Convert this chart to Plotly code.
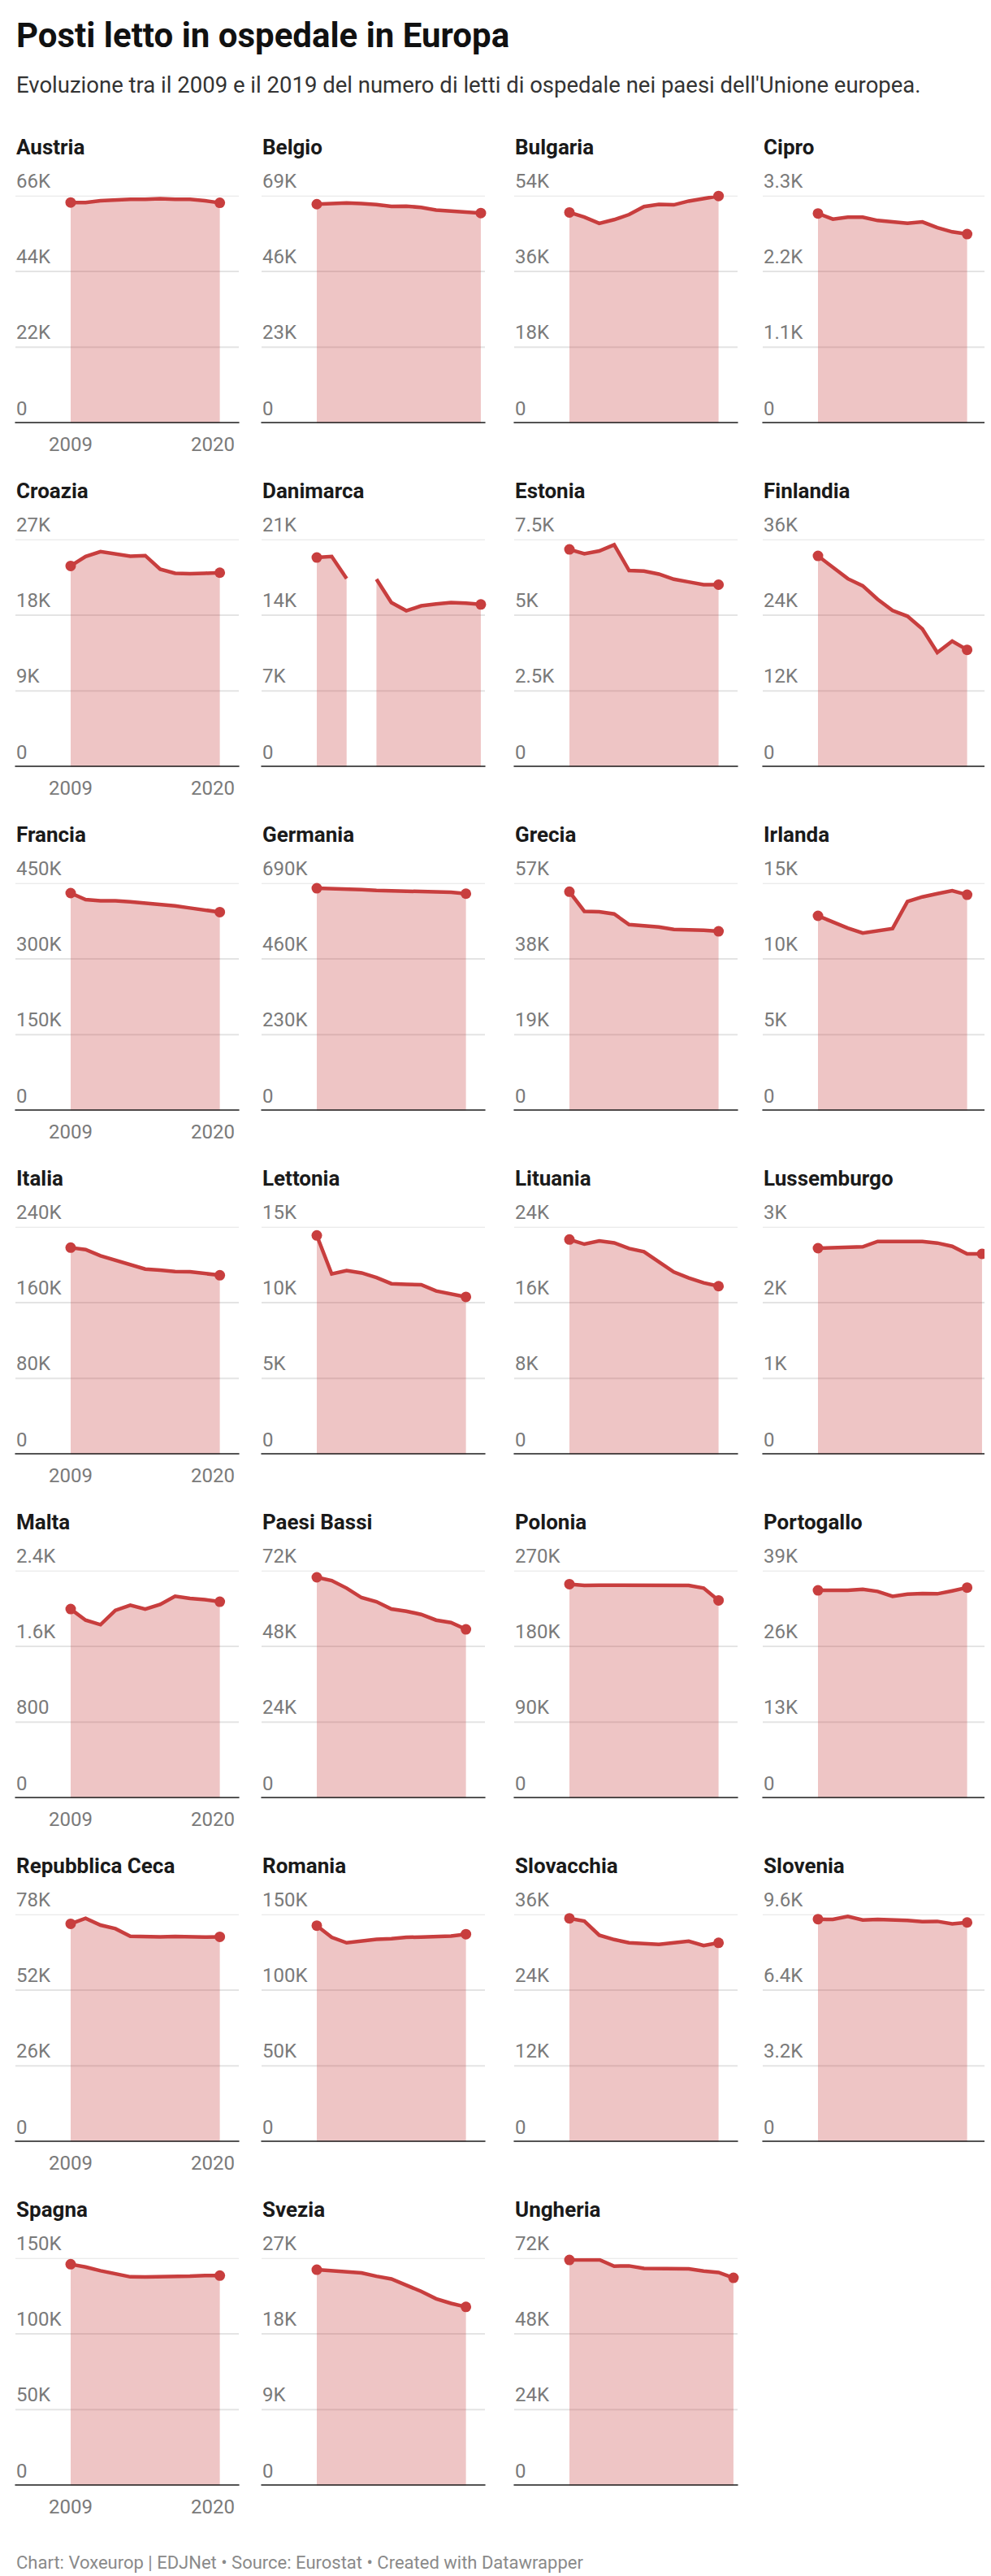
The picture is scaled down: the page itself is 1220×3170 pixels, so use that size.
import plotly.graph_objects as go

# ---------------- DATA ----------------
years_2019 = list(range(2009, 2020))
years_2020 = list(range(2009, 2021))

austria = [64000, 64000, 64500, 64800, 64900, 64900, 65100, 64900, 64900, 64500, 63900]
belgio = [66400, 66600, 66800, 66600, 66300, 65700, 65800, 65400, 64600, 64300, 64100, 63700]
bulgaria = [50000, 48900, 47400, 48300, 49500, 51400, 51900, 51800, 52700, 53200, 53900]
cipro = [3041, 2958, 2986, 2986, 2939, 2915, 2899, 2919, 2836, 2774, 2742]
croazia = [23840, 24970, 25550, 25230, 25000, 25070, 23460, 22970, 22910, 22970, 23040]
danimarca = [19320, 19420, 17370, None, 17320, 15160, 14410, 14860, 15040, 15160, 15110, 14990]
estonia = [7169, 7026, 7115, 7321, 6471, 6453, 6354, 6184, 6095, 6005, 6005]
finlandia = [33380, 31490, 29770, 28650, 26510, 24740, 23840, 21820, 18090, 19890, 18520]
francia = [430200, 417300, 415100, 415100, 413000, 410800, 408700, 405000, 400700, 396900, 392600]
germania = [674400, 673600, 671900, 670300, 667800, 667000, 665300, 664500, 662000, 662000, 657900]
grecia = [54830, 49930, 49800, 49260, 46610, 46270, 45990, 45380, 45380, 45180, 44910]
irlanda = [12840, 12430, 12030, 11710, 11850, 12000, 13780, 14090, 14300, 14500, 14230]
italia = [218000, 216000, 209400, 204600, 200300, 195400, 194300, 192900, 192600, 190300, 188900]
lettonia = [14430, 11890, 12110, 11960, 11660, 11250, 11210, 11180, 10770, 10550, 10380]
lituania = [22660, 22170, 22510, 22310, 21710, 21370, 20290, 19230, 18600, 18090, 17740]
lussemburgo = [2718, 2721, 2732, 2736, 2807, 2811, 2811, 2807, 2786, 2743, 2643, 2643]
malta = [1994, 1877, 1829, 1980, 2034, 1994, 2043, 2129, 2106, 2094, 2071]
paesi_bassi = [69860, 68830, 66430, 63430, 62140, 59830, 59140, 58110, 56310, 55540, 53400]
polonia = [253900, 252300, 252600, 252600, 252000, 252300, 252600, 252600, 252300, 249100, 234600]
portogallo = [35610, 35610, 35610, 35800, 35430, 34590, 34960, 35050, 35010, 35520, 36080]
rep_ceca = [74740, 76600, 74280, 73070, 70460, 70270, 70270, 70370, 70180, 70180, 70270]
romania = [142500, 134800, 131200, 132600, 133500, 133900, 134800, 135000, 135100, 135700, 136900]
slovacchia = [35360, 34930, 32690, 32000, 31490, 31400, 31230, 31490, 31750, 31060, 31490]
slovenia = [9394, 9382, 9508, 9359, 9382, 9371, 9337, 9291, 9302, 9199, 9256]
spagna = [145900, 144100, 141600, 139300, 137600, 137500, 137600, 137500, 138000, 138500, 138400]
svezia = [25610, 25490, 25450, 25230, 24840, 24520, 23780, 23040, 22170, 21620, 21200]
ungheria = [71400, 71570, 71480, 69420, 69510, 68740, 68650, 68560, 68560, 67880, 67450, 65730]

countries = ["Austria", "Belgio", "Bulgaria", "Cipro", "Croazia", "Danimarca", "Estonia",
             "Finlandia", "Francia", "Germania", "Grecia", "Irlanda", "Italia", "Lettonia",
             "Lituania", "Lussemburgo", "Malta", "Paesi Bassi", "Polonia", "Portogallo",
             "Repubblica Ceca", "Romania", "Slovacchia", "Slovenia", "Spagna", "Svezia",
             "Ungheria"]

values = [austria, belgio, bulgaria, cipro, croazia, danimarca, estonia, finlandia, francia,
          germania, grecia, irlanda, italia, lettonia, lituania, lussemburgo, malta,
          paesi_bassi, polonia, portogallo, rep_ceca, romania, slovacchia, slovenia, spagna,
          svezia, ungheria]

tick_steps = [22000, 23000, 18000, 1100, 9000, 7000, 2500, 12000, 150000, 230000, 19000,
              5000, 80000, 5000, 8000, 1000, 800, 24000, 90000, 13000, 26000, 50000, 12000,
              3200, 50000, 9000, 24000]

tick_labels = [
    ["0", "22K", "44K", "66K"], ["0", "23K", "46K", "69K"], ["0", "18K", "36K", "54K"],
    ["0", "1.1K", "2.2K", "3.3K"], ["0", "9K", "18K", "27K"], ["0", "7K", "14K", "21K"],
    ["0", "2.5K", "5K", "7.5K"], ["0", "12K", "24K", "36K"], ["0", "150K", "300K", "450K"],
    ["0", "230K", "460K", "690K"], ["0", "19K", "38K", "57K"], ["0", "5K", "10K", "15K"],
    ["0", "80K", "160K", "240K"], ["0", "5K", "10K", "15K"], ["0", "8K", "16K", "24K"],
    ["0", "1K", "2K", "3K"], ["0", "800", "1.6K", "2.4K"], ["0", "24K", "48K", "72K"],
    ["0", "90K", "180K", "270K"], ["0", "13K", "26K", "39K"], ["0", "26K", "52K", "78K"],
    ["0", "50K", "100K", "150K"], ["0", "12K", "24K", "36K"], ["0", "3.2K", "6.4K", "9.6K"],
    ["0", "50K", "100K", "150K"], ["0", "9K", "18K", "27K"], ["0", "24K", "48K", "72K"],
]

x_tick_labels = ["2009", "2020"]

title = "Posti letto in ospedale in Europa"
subtitle = ("Evoluzione tra il 2009 e il 2019 del numero di letti di ospedale "
            "nei paesi dell'Unione europea.")
footer = "Chart: Voxeurop | EDJNet • Source: Eurostat • Created with Datawrapper"

# ---------------- LAYOUT / STYLE ----------------
W, H = 1220, 3170
COL_X0 = [11, 314, 625, 931]
PANEL_W = 275
ROW_BASE0 = 512.7
ROW_PITCH = 423
PLOT_H = 280
YEAR_PX = 18.36
X_LEFT_PAD = 68

LINE_COLOR = "#c83e3e"
FILL_COLOR = "rgba(200,62,62,0.30)"
GRID_COLOR = "#e4e4e4"
TICK_COLOR = "#7a7a7a"
FONT = "Roboto"

fig = go.Figure()
shapes = []
annotations = []

x_range = [2009 - X_LEFT_PAD / YEAR_PX, 2009 + (PANEL_W - X_LEFT_PAD) / YEAR_PX]


def segments(xs, vals):
    """Split a series at missing values into connected segments."""
    segs, cur = [], []
    for x, v in zip(xs, vals):
        if v is None:
            if cur:
                segs.append(cur)
            cur = []
        else:
            cur.append((x, v))
    if cur:
        segs.append(cur)
    return segs


for i, (name, vals) in enumerate(zip(countries, values)):
    k = i + 1
    r, c = divmod(i, 4)
    xs = years_2020 if len(vals) == 12 else years_2019
    x0 = COL_X0[c]
    base = ROW_BASE0 + ROW_PITCH * r
    top = base - PLOT_H
    step = tick_steps[i]
    ymax = step * 3
    xa = "xaxis" if k == 1 else f"xaxis{k}"
    ya = "yaxis" if k == 1 else f"yaxis{k}"
    xr = "x" if k == 1 else f"x{k}"
    yr = "y" if k == 1 else f"y{k}"

    fig.update_layout({
        xa: dict(domain=[x0 / W, (x0 + PANEL_W) / W], range=x_range, visible=False,
                 fixedrange=True, anchor=yr),
        ya: dict(domain=[1 - base / H, 1 - top / H], range=[0, ymax], visible=False,
                 fixedrange=True, anchor=xr),
    })

    # gridlines
    for j in range(1, 4):
        shapes.append(dict(type="line", xref=f"{xr} domain", yref=yr, x0=0, x1=1,
                           y0=step * j, y1=step * j, layer="below",
                           line=dict(color=GRID_COLOR, width=2)))
    # baseline
    shapes.append(dict(type="line", xref=f"{xr} domain", yref=yr, x0=-0.002, x1=1.002,
                       y0=0, y1=0, layer="above", line=dict(color="#1a1a1a", width=3)))

    # area + line (one trace per connected segment so gaps stay empty)
    for seg in segments(xs, vals):
        fig.add_trace(go.Scatter(x=[p[0] for p in seg], y=[p[1] for p in seg],
                                 xaxis=xr, yaxis=yr, mode="lines",
                                 fill="tozeroy", fillcolor=FILL_COLOR,
                                 line=dict(color=LINE_COLOR, width=4.5), hoverinfo="skip",
                                 showlegend=False))
    # end dots
    valid = [(x, v) for x, v in zip(xs, vals) if v is not None]
    ends = [valid[0], valid[-1]]
    fig.add_trace(go.Scatter(x=[e[0] for e in ends], y=[e[1] for e in ends],
                             xaxis=xr, yaxis=yr, mode="markers",
                             marker=dict(color=LINE_COLOR, size=13), hoverinfo="skip",
                             showlegend=False, cliponaxis=False))

    # tick labels
    for j, lab in enumerate(tick_labels[i]):
        annotations.append(dict(text=lab, xref=f"{xr} domain", yref=yr, x=0, y=step * j,
                                xanchor="left", yanchor="middle", yshift=18, xshift=-1,
                                showarrow=False,
                                font=dict(family=FONT, size=24, color=TICK_COLOR)))
    # panel title
    annotations.append(dict(text=name, xref=f"{xr} domain", yref=f"{yr} domain", x=0, y=1,
                            xanchor="left", yanchor="middle", yshift=60, xshift=-1,
                            showarrow=False,
                            font=dict(family=FONT, size=26, color="#1a1a1a", weight=700)))
    # x labels on first column
    if c == 0:
        annotations.append(dict(text=x_tick_labels[0], xref=xr, yref=f"{yr} domain",
                                x=int(x_tick_labels[0]), y=0, xanchor="center",
                                yanchor="middle", yshift=-26, showarrow=False,
                                font=dict(family=FONT, size=24, color=TICK_COLOR)))
        annotations.append(dict(text=x_tick_labels[1], xref=xr, yref=f"{yr} domain",
                                x=int(x_tick_labels[1]), y=0, xanchor="right",
                                yanchor="middle", yshift=-26, xshift=2, showarrow=False,
                                font=dict(family=FONT, size=24, color=TICK_COLOR)))

# header / footer
annotations.append(dict(text=title, xref="paper", yref="paper", x=10 / W, y=1 - 35 / H,
                        xanchor="left", yanchor="middle", showarrow=False,
                        font=dict(family=FONT, size=42, color="#111111", weight=700)))
annotations.append(dict(text=subtitle, xref="paper", yref="paper", x=10 / W, y=1 - 97 / H,
                        xanchor="left", yanchor="middle", showarrow=False,
                        font=dict(family=FONT, size=27.5, color="#333333")))
annotations.append(dict(text=footer, xref="paper", yref="paper", x=10 / W, y=1 - 3145 / H,
                        xanchor="left", yanchor="middle", showarrow=False,
                        font=dict(family=FONT, size=22, color="#8a8a8a")))

fig.update_layout(width=W, height=H, margin=dict(l=0, r=0, t=0, b=0),
                  paper_bgcolor="white", plot_bgcolor="rgba(0,0,0,0)",
                  shapes=shapes, annotations=annotations, showlegend=False)

fig.write_html("out.html")
